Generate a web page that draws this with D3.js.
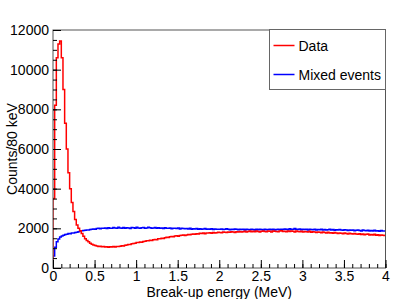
<!DOCTYPE html>
<html>
<head>
<meta charset="utf-8">
<script src="https://cdn.jsdelivr.net/npm/d3@7"></script>
<style>
  body { margin: 0; background: #fff; }
  svg { font-family: "Liberation Sans", Arial, Helvetica, sans-serif; }
  .axis path { display: none; }
  .axis line { stroke: #000; }
  .axis text { font-size: 14px; fill: #000; }
</style>
</head>
<body>
<div class="chart-wrapper"></div>
<script>
// bin width 0.02 MeV, 200 bins from 0 to 4 MeV
const binWidth = 0.02

const dataCounts = [
  3500, 8200, 10600, 11300, 11450, 10600, 9000, 7300, 6000, 4800, 4000, 3300, 2850, 2450, 2170, 2000, 1880, 1740, 1600, 1480,
  1390, 1320, 1250, 1200, 1160, 1130, 1110, 1090, 1100, 1070, 1080, 1060, 1075, 1050, 1070, 1065, 1080, 1060, 1085, 1090,
  1100, 1120, 1110, 1150, 1160, 1190, 1180, 1220, 1240, 1250, 1280, 1290, 1310, 1300, 1340, 1350, 1370, 1380, 1400, 1390,
  1420, 1440, 1430, 1470, 1480, 1500, 1490, 1530, 1550, 1540, 1570, 1590, 1580, 1610, 1620, 1600, 1640, 1650, 1660, 1640,
  1670, 1690, 1680, 1700, 1720, 1700, 1730, 1710, 1750, 1740, 1760, 1730, 1770, 1760, 1780, 1750, 1790, 1770, 1780, 1800,
  1790, 1780, 1810, 1800, 1790, 1820, 1800, 1830, 1810, 1790, 1830, 1820, 1840, 1810, 1830, 1850, 1820, 1840, 1860, 1830,
  1850, 1830, 1860, 1840, 1820, 1850, 1870, 1840, 1830, 1860, 1850, 1820, 1870, 1850, 1840, 1830, 1860, 1880, 1840, 1850,
  1830, 1860, 1840, 1870, 1850, 1820, 1860, 1840, 1830, 1850, 1810, 1840, 1830, 1820, 1850, 1800, 1830, 1810, 1790, 1820,
  1800, 1780, 1810, 1790, 1770, 1800, 1760, 1780, 1750, 1790, 1760, 1740, 1770, 1750, 1730, 1760, 1740, 1720, 1750, 1730,
  1710, 1740, 1720, 1700, 1730, 1690, 1710, 1680, 1700, 1720, 1670, 1690, 1660, 1700, 1650, 1680, 1640, 1670, 1650, 1640
]

const mixedCounts = [
  600, 1050, 1320, 1460, 1560, 1610, 1650, 1690, 1700, 1740, 1730, 1770, 1760, 1790, 1800, 1830, 1870, 1880, 1890, 1900,
  1910, 1920, 1940, 1950, 1970, 1960, 1990, 2000, 1980, 2010, 2000, 2020, 1990, 2030, 2010, 2000, 2040, 2020, 2010, 2050,
  2020, 2000, 2040, 2010, 2030, 2020, 1990, 2040, 2030, 2010, 2050, 2020, 2000, 2030, 2040, 2010, 2020, 2060, 2030, 2010,
  2020, 2040, 2000, 2030, 2010, 2020, 1990, 2030, 2010, 2000, 2020, 1980, 2010, 2000, 1990, 2020, 1970, 2000, 1990, 1980,
  1990, 1970, 2000, 1960, 1980, 1970, 1990, 1950, 1980, 1960, 1970, 1990, 1950, 1970, 1960, 1980, 1940, 1970, 1950, 1960,
  1950, 1970, 1940, 1960, 1980, 1950, 1930, 1960, 1940, 1970, 1950, 1930, 1960, 1940, 1950, 1920, 1960, 1940, 1930, 1950,
  1940, 1920, 1950, 1930, 1960, 1940, 1920, 1950, 1930, 1940, 1960, 1930, 1950, 1920, 1940, 1960, 1930, 1950, 1940, 1970,
  1950, 1930, 1980, 1940, 1960, 1990, 1950, 1940, 1970, 1930, 1960, 1940, 1950, 1920, 1960, 1940, 1930, 1950, 1920, 1940,
  1930, 1950, 1920, 1940, 1910, 1930, 1950, 1920, 1940, 1900, 1930, 1910, 1940, 1920, 1900, 1930, 1910, 1890, 1920, 1900,
  1910, 1880, 1900, 1920, 1890, 1870, 1910, 1890, 1880, 1900, 1860, 1890, 1870, 1900, 1860, 1880, 1850, 1890, 1860, 1870
]

const xMajorTicks = [0, 0.5, 1, 1.5, 2, 2.5, 3, 3.5, 4]
const yMajorTicks = [0, 2000, 4000, 6000, 8000, 10000, 12000]

const seriesNames = ['Data', 'Mixed events']
const seriesColors = ['#ff0000', '#0000ff']

const width = 415
const height = 299
const frame = {left: 53, right: 385.5, top: 30, bottom: 268}

let x = d3.scaleLinear().domain([0, 4]).range([frame.left, frame.right])
let y = d3.scaleLinear().domain([0, 12000]).range([frame.bottom, frame.top])

let svg = d3.select('.chart-wrapper')
  .append('svg')
  .attr('width', width)
  .attr('height', height)

svg.append('defs').append('clipPath')
  .attr('id', 'frameClip')
  .append('rect')
  .attr('x', frame.left)
  .attr('y', frame.top)
  .attr('width', frame.right - frame.left)
  .attr('height', frame.bottom - frame.top)

// step line for a histogram: start at baseline, one step per bin
function histPoints(counts) {
  let pts = [[0, 0]]
  counts.forEach((c, i) => pts.push([i * binWidth, c]))
  pts.push([counts.length * binWidth, counts[counts.length - 1]])
  return pts
}

let stepLine = d3.line()
  .x(d => x(d[0]))
  .y(d => y(d[1]))
  .curve(d3.curveStepAfter)

let plot = svg.append('g').attr('clip-path', 'url(#frameClip)')

plot.append('path')
  .datum(histPoints(mixedCounts))
  .attr('fill', 'none')
  .attr('stroke', seriesColors[1])
  .attr('stroke-width', 1.5)
  .attr('d', stepLine)

plot.append('path')
  .datum(histPoints(dataCounts))
  .attr('fill', 'none')
  .attr('stroke', seriesColors[0])
  .attr('stroke-width', 1.5)
  .attr('d', stepLine)

// frame
svg.append('rect')
  .attr('x', frame.left)
  .attr('y', frame.top)
  .attr('width', frame.right - frame.left)
  .attr('height', frame.bottom - frame.top)
  .attr('fill', 'none')
  .attr('stroke', '#555')
  .attr('stroke-width', 1)

// x axis, ticks pointing inwards
svg.append('g')
  .attr('class', 'axis')
  .attr('transform', 'translate(0,' + frame.bottom + ')')
  .call(d3.axisBottom(x)
    .tickValues(d3.range(0, 4.0001, 0.1))
    .tickFormat('')
    .tickSizeInner(-4)
    .tickSizeOuter(0))

svg.append('g')
  .attr('class', 'axis')
  .attr('transform', 'translate(0,' + frame.bottom + ')')
  .call(d3.axisBottom(x)
    .tickValues(xMajorTicks)
    .tickFormat(d3.format('~g'))
    .tickSizeInner(-8)
    .tickSizeOuter(0)
    .tickPadding(3))

// y axis
svg.append('g')
  .attr('class', 'axis')
  .attr('transform', 'translate(' + frame.left + ',0)')
  .call(d3.axisLeft(y)
    .tickValues(d3.range(0, 12001, 500))
    .tickFormat('')
    .tickSizeInner(-4)
    .tickSizeOuter(0))

svg.append('g')
  .attr('class', 'axis')
  .attr('transform', 'translate(' + frame.left + ',0)')
  .call(d3.axisLeft(y)
    .tickValues(yMajorTicks)
    .tickFormat(d3.format('d'))
    .tickSizeInner(-8)
    .tickSizeOuter(0)
    .tickPadding(4))

// axis titles
svg.append('text')
  .attr('x', (frame.left + frame.right) / 2)
  .attr('y', 296.5)
  .attr('text-anchor', 'middle')
  .style('font-size', '14px')
  .text('Break-up energy (MeV)')

svg.append('text')
  .attr('transform', 'translate(17,' + (frame.top + frame.bottom) / 2 + ') rotate(-90)')
  .attr('text-anchor', 'middle')
  .style('font-size', '14px')
  .text('Counts/80 keV')

// legend
let legend = svg.append('g').attr('transform', 'translate(269.5,29.5)')

legend.append('rect')
  .attr('width', 116)
  .attr('height', 60)
  .attr('fill', '#fff')
  .attr('stroke', '#666')

seriesNames.forEach((name, i) => {
  let ly = 16 + i * 29
  legend.append('line')
    .attr('x1', 4).attr('x2', 25)
    .attr('y1', ly).attr('y2', ly)
    .attr('stroke', seriesColors[i])
    .attr('stroke-width', 1.5)
  legend.append('text')
    .attr('x', 29)
    .attr('y', ly + 5)
    .style('font-size', '14px')
    .text(name)
})
</script>
</body>
</html>
